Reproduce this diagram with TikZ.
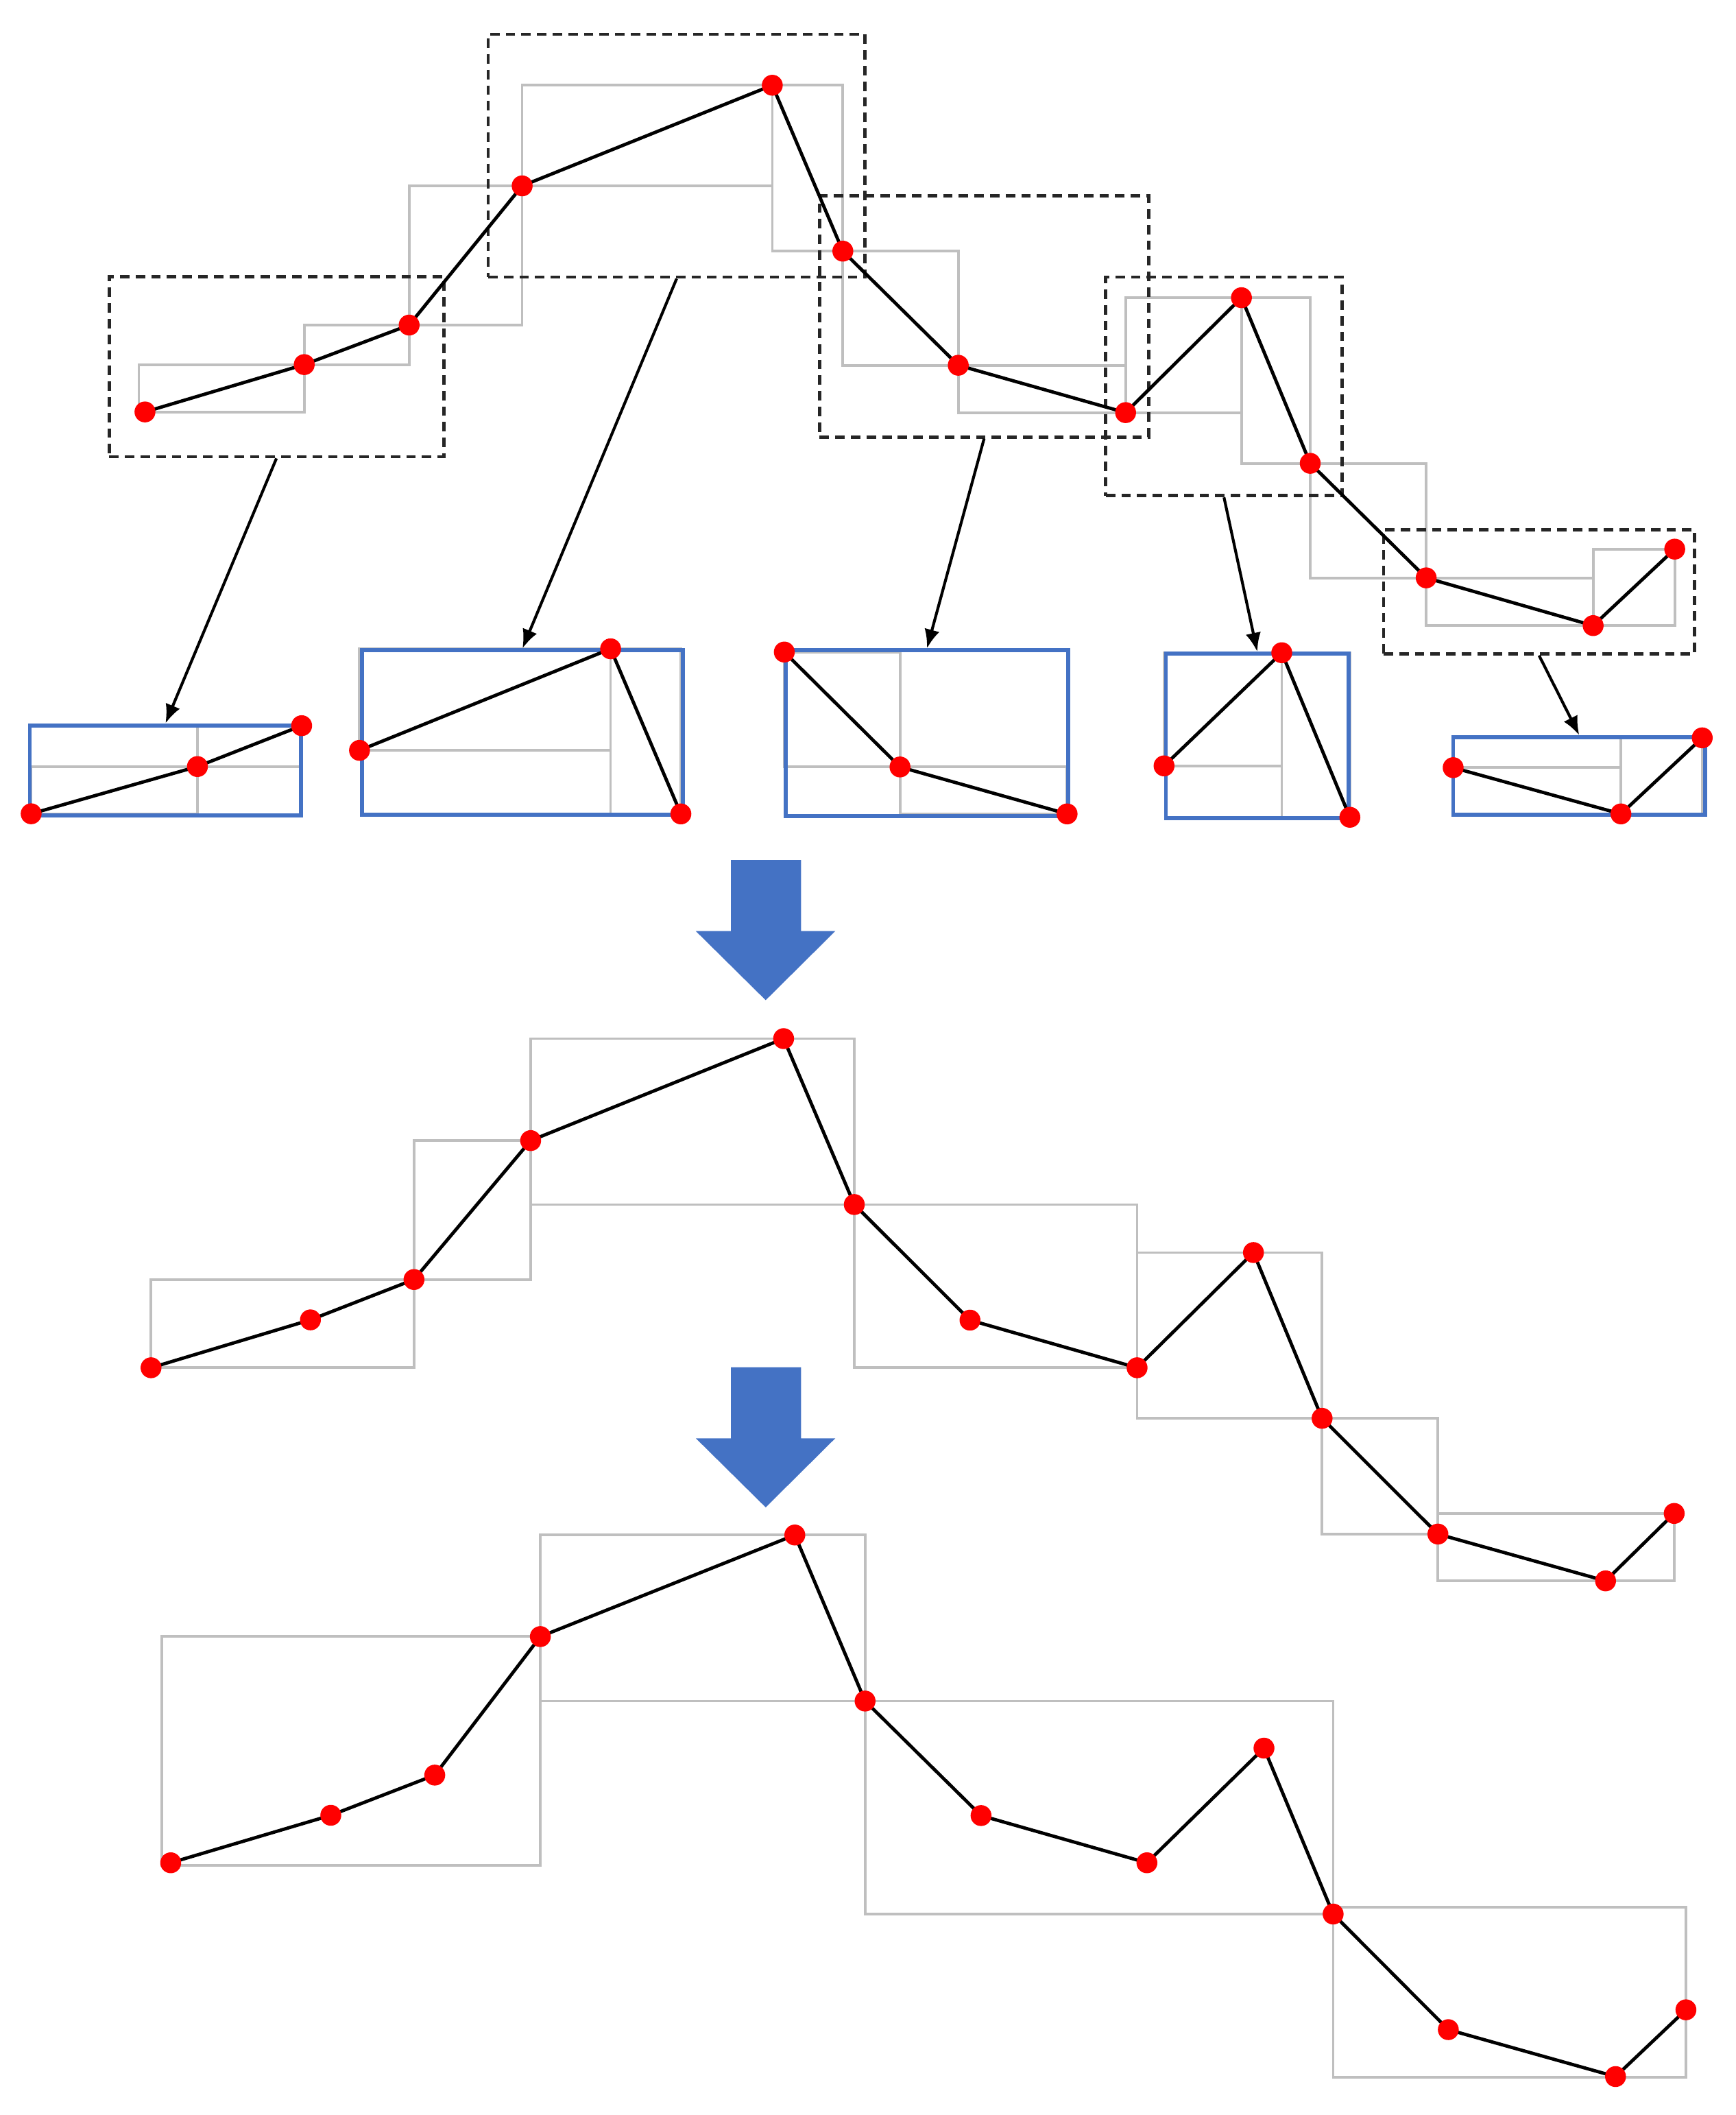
\documentclass[tikz,border=0pt]{standalone}
\usetikzlibrary{arrows.meta,fit}
\definecolor{dotred}{RGB}{255,0,0}
\definecolor{boxgray}{RGB}{191,191,191}
\definecolor{blockblue}{RGB}{68,114,196}
\begin{document}
\begin{tikzpicture}[x=0.02cm,y=-0.02cm,
  gbox/.style={draw=boxgray,line width=1.1pt},
  curve/.style={draw=black,line width=1.4pt,line join=round},
  dot/.style={circle,fill=dotred,inner sep=0pt,minimum size=0.31cm},
  dashbox/.style={draw=black!85,line width=1.4pt,dash pattern=on 4pt off 2.6pt,inner sep=0pt},
  bluebox/.style={draw=blockblue,line width=1.7pt,inner sep=0pt},
  conn/.style={draw=black,line width=1.2pt,-{Latex[length=8pt,width=6.5pt]}},
  blockarrow/.style={fill=blockblue}]
\useasboundingbox (0,0) rectangle (1287,1568);

% ---------- top polyline ----------
\coordinate (a1) at (107.5,305.4);
\coordinate (a2) at (225.6,270.3);
\coordinate (a3) at (303.4,241);
\coordinate (a4) at (387.2,137.8);
\coordinate (a5) at (572.7,63.2);
\coordinate (a6) at (625,186.2);
\coordinate (a7) at (710.6,270.8);
\coordinate (a8) at (834.7,305.9);
\coordinate (a9) at (920.6,220.7);
\coordinate (a10) at (971.6,343.5);
\coordinate (a11) at (1057.6,428.4);
\coordinate (a12) at (1181.4,463.8);
\coordinate (a13) at (1241.9,407.1);

\draw[gbox] (103,305.4) rectangle (a2);
\foreach \i/\j in {2/3,3/4,4/5,5/6,6/7,7/8,8/9,9/10,10/11,11/12,12/13}
  \draw[gbox] (a\i) rectangle (a\j);

\node[dashbox, fit={(81,205) (329,338.6)}] (g1) {};
\node[dashbox, fit={(362,25.4) (641.5,205.4)}] (g2) {};
\node[dashbox, fit={(607.8,145) (851.7,324)}] (g3) {};
\node[dashbox, fit={(820,205.4) (995.3,367.5)}] (g4) {};
\node[dashbox, fit={(1026,392.8) (1256.6,484.7)}] (g5) {};

\draw[curve] (a1) -- (a2) -- (a3) -- (a4) -- (a5) -- (a6) -- (a7) -- (a8)
  -- (a9) -- (a10) -- (a11) -- (a12) -- (a13);
\foreach \i in {1,...,13} \node[dot] (da\i) at (a\i) {};

% ---------- split pieces ----------
\coordinate (q1) at (23.1,603.3);
\coordinate (q2) at (146.4,568.3);
\coordinate (q3) at (223.7,538);
\coordinate (r1) at (266.6,556.3);
\coordinate (r2) at (452.8,481);
\coordinate (r3) at (504.9,603.4);
\coordinate (s1) at (581.6,483.4);
\coordinate (s2) at (667.4,568.6);
\coordinate (s3) at (791.3,603.4);
\coordinate (t1) at (863.2,567.8);
\coordinate (t2) at (950.5,483.9);
\coordinate (t3) at (1001,605.9);
\coordinate (u1) at (1077.6,569.1);
\coordinate (u2) at (1202,603.4);
\coordinate (u3) at (1262.3,547);

\foreach \p in {q,r,s,t,u} {
  \draw[gbox] (\p1) rectangle (\p2);
  \draw[gbox] (\p2) rectangle (\p3);
}

\node[bluebox, fit={(22.1,537.8) (223.3,604.7)}] (h1) {};
\node[bluebox, fit={(268.3,482.2) (506.6,603.9)}] (h2) {};
\node[bluebox, fit={(582.5,482.2) (792.3,605)}] (h3) {};
\node[bluebox, fit={(864.6,484.7) (1000.1,606.4)}] (h4) {};
\node[bluebox, fit={(1077.6,546.6) (1264.6,604.2)}] (h5) {};

\foreach \p in {q,r,s,t,u} {
  \draw[curve] (\p1) -- (\p2) -- (\p3);
  \foreach \i in {1,2,3} \node[dot] (d\p\i) at (\p\i) {};
}

\draw[conn] (g1.south) -- (h1.north);
\draw[conn] (g2.south) -- (h2.north);
\draw[conn] (g3.south) -- (h3.north);
\draw[conn] (g4.south) -- (h4.north);
\draw[conn] (g5.south) -- (h5.north);

% ---------- block arrows ----------
\fill[blockarrow] (542,637.6) -- (594,637.6) -- (594,690.3) -- (619.4,690.3)
  -- (567.8,741.5) -- (516,690.3) -- (542,690.3) -- cycle;
\fill[blockarrow] (542,1013.6) -- (594,1013.6) -- (594,1066.3) -- (619.4,1066.3)
  -- (567.8,1117.5) -- (516,1066.3) -- (542,1066.3) -- cycle;

% ---------- middle polyline ----------
\coordinate (m1) at (112,1014);
\coordinate (m2) at (230.2,978.5);
\coordinate (m3) at (307,948.6);
\coordinate (m4) at (393.5,845.6);
\coordinate (m5) at (581.1,770);
\coordinate (m6) at (633.5,893);
\coordinate (m7) at (719.3,978.7);
\coordinate (m8) at (843.2,1014);
\coordinate (m9) at (929.5,928.6);
\coordinate (m10) at (980.4,1051.5);
\coordinate (m11) at (1066.3,1137.3);
\coordinate (m12) at (1190.6,1172);
\coordinate (m13) at (1241.5,1122);

\draw[gbox] (m1) rectangle (m3);
\draw[gbox] (m3) rectangle (m4);
\draw[gbox] (m4 |- m5) rectangle (m6);
\draw[gbox] (m6) rectangle (m8);
\draw[gbox] (m8 |- m9) rectangle (m10);
\draw[gbox] (m10) rectangle (m11);
\draw[gbox] (m11 |- m13) rectangle (m13 |- m12);

\draw[curve] (m1) -- (m2) -- (m3) -- (m4) -- (m5) -- (m6) -- (m7) -- (m8)
  -- (m9) -- (m10) -- (m11) -- (m12) -- (m13);
\foreach \i in {1,...,13} \node[dot] (dm\i) at (m\i) {};

% ---------- bottom polyline ----------
\coordinate (b1) at (126.6,1381);
\coordinate (b2) at (245.3,1345.8);
\coordinate (b3) at (322.4,1316);
\coordinate (b4) at (400.7,1213.3);
\coordinate (b5) at (589.4,1138);
\coordinate (b6) at (641.5,1261.1);
\coordinate (b7) at (727.5,1346);
\coordinate (b8) at (850.5,1381);
\coordinate (b9) at (937.3,1296);
\coordinate (b10) at (988.6,1419);
\coordinate (b11) at (1074,1504.7);
\coordinate (b12) at (1198,1539.5);
\coordinate (b13) at (1250.2,1490);

\draw[gbox] (120,1383) rectangle (b4);
\draw[gbox] (b4 |- b5) rectangle (b6);
\draw[gbox] (b6) rectangle (b10);
\draw[gbox] (988.6,1414) rectangle (1250.2,1540);

\draw[curve] (b1) -- (b2) -- (b3) -- (b4) -- (b5) -- (b6) -- (b7) -- (b8)
  -- (b9) -- (b10) -- (b11) -- (b12) -- (b13);
\foreach \i in {1,...,13} \node[dot] (db\i) at (b\i) {};
\end{tikzpicture}
\end{document}
